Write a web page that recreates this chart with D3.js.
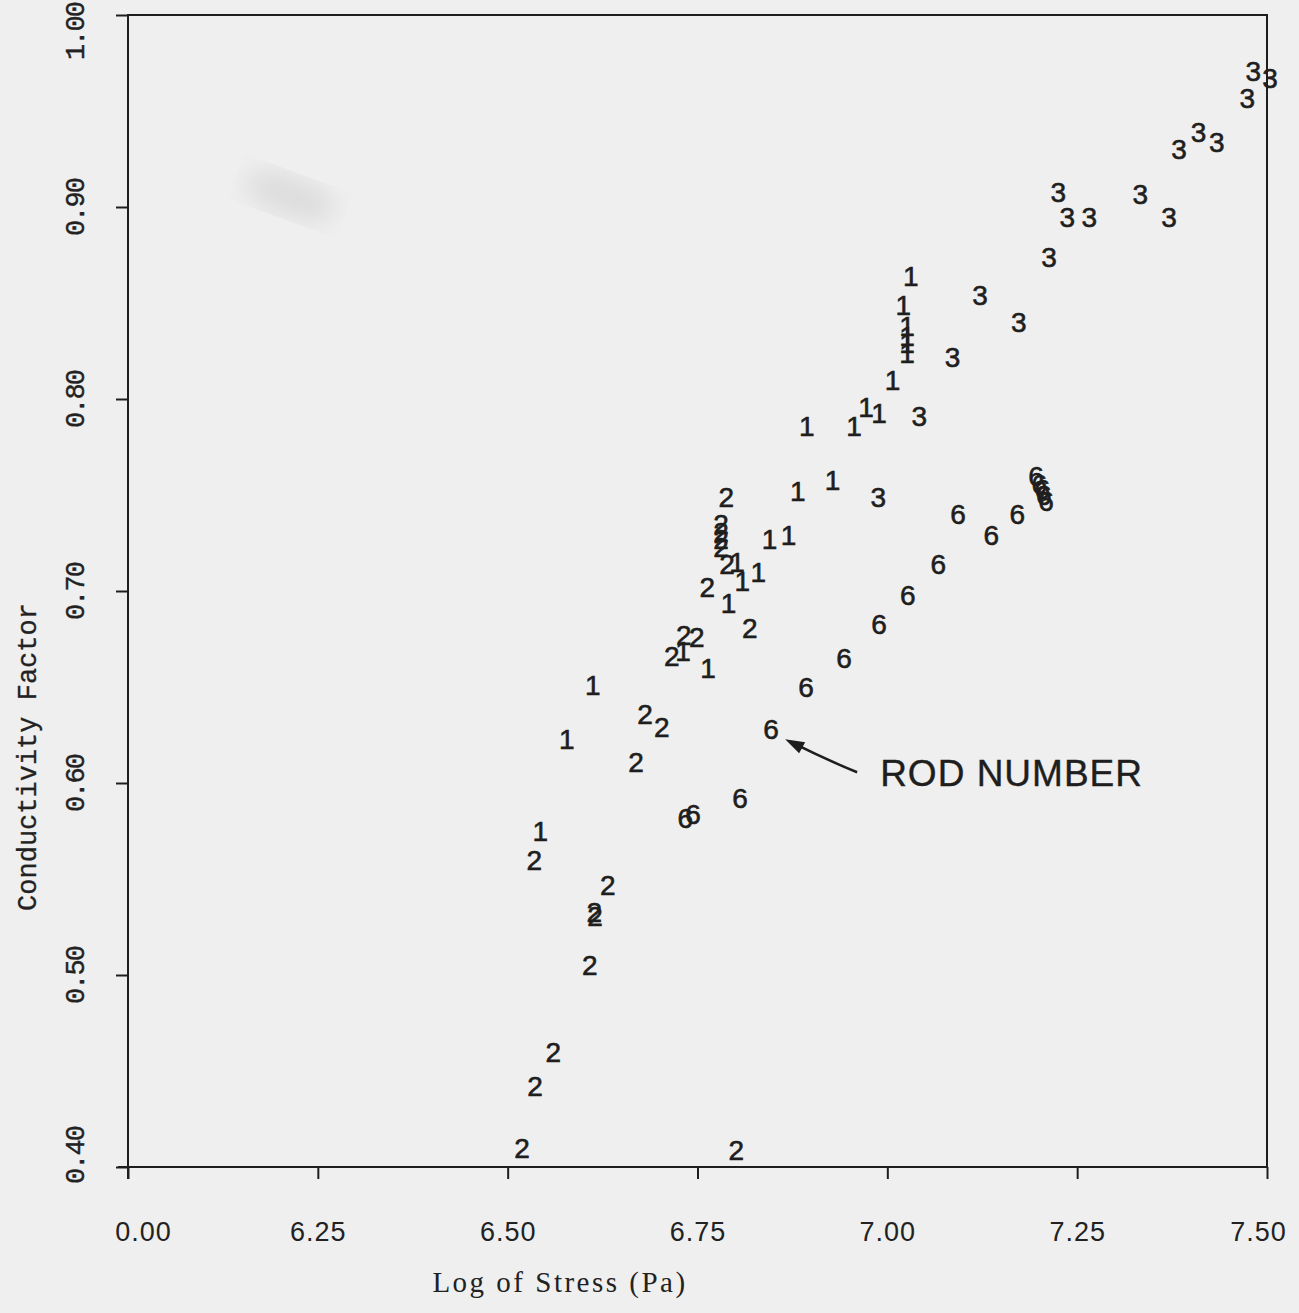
<!DOCTYPE html>
<html>
<head>
<meta charset="utf-8">
<script src="https://cdn.jsdelivr.net/npm/d3@7"></script>
<style>
  body { margin: 0; background: #efefef; }
  svg { display: block; }
</style>
</head>
<body>
<div class="chart--container"></div>
<script>
// ticks
let xTicks = [6.00, 6.25, 6.50, 6.75, 7.00, 7.25, 7.50],
    xTickLabels = ['0.00', '6.25', '6.50', '6.75', '7.00', '7.25', '7.50'],   // broken axis, first is printed 0.00
    yTicks = [0.40, 0.50, 0.60, 0.70, 0.80, 0.90, 1.00],
    yTickLabels = ['0.40', '0.50', '0.60', '0.70', '0.80', '0.90', '1.00'];

// rod 1
let rod1_x = [7.031, 7.021, 7.026, 7.026, 7.026, 7.026, 7.007, 6.972, 6.989, 6.894, 6.956, 6.882,
              6.928, 6.845, 6.870, 6.802, 6.809, 6.830, 6.791, 6.731, 6.764, 6.612, 6.578, 6.543],
    rod1_y = [0.864, 0.849, 0.838, 0.833, 0.829, 0.824, 0.810, 0.796, 0.793, 0.786, 0.786, 0.752,
              0.758, 0.727, 0.729, 0.715, 0.705, 0.710, 0.694, 0.669, 0.660, 0.651, 0.623, 0.575];

// rod 2
let rod2_x = [6.788, 6.781, 6.781, 6.781, 6.781, 6.789, 6.763, 6.819, 6.732, 6.749, 6.716, 6.681,
              6.703, 6.669, 6.535, 6.632, 6.614, 6.615, 6.608, 6.560, 6.536, 6.519, 6.801],
    rod2_y = [0.749, 0.735, 0.731, 0.727, 0.723, 0.714, 0.702, 0.681, 0.677, 0.676, 0.666, 0.636,
              0.629, 0.611, 0.560, 0.547, 0.533, 0.531, 0.505, 0.460, 0.442, 0.410, 0.409];

// rod 3
let rod3_x = [7.482, 7.504, 7.474, 7.384, 7.410, 7.434, 7.225, 7.237, 7.266, 7.333, 7.371, 7.213,
              7.122, 7.173, 7.086, 7.042, 6.988],
    rod3_y = [0.971, 0.967, 0.957, 0.930, 0.939, 0.934, 0.908, 0.895, 0.895, 0.907, 0.895, 0.874,
              0.854, 0.840, 0.822, 0.791, 0.749];

// rod 6
let rod6_x = [7.196, 7.200, 7.204, 7.206, 7.209, 7.171, 7.093, 7.137, 7.067, 7.027, 6.989, 6.943,
              6.893, 6.847, 6.806, 6.734, 6.744],
    rod6_y = [0.760, 0.756, 0.753, 0.750, 0.747, 0.740, 0.740, 0.729, 0.714, 0.698, 0.683, 0.665,
              0.650, 0.628, 0.592, 0.582, 0.584];

let rods = [['1', rod1_x, rod1_y], ['2', rod2_x, rod2_y], ['3', rod3_x, rod3_y], ['6', rod6_x, rod6_y]];

let width = 1299, height = 1313,
    margin = {t: 15, l: 128, r: 32, b: 146},
    ink = '#1e1e1e';

let points = [];
rods.forEach(r => r[1].forEach((x, i) => points.push({rod: r[0], x: x, y: r[2][i]})));

let svg = d3.select('.chart--container')
            .append('svg')
            .attr('width', width)
            .attr('height', height);

// paper smudge
let defs = svg.append('defs');
defs.append('filter').attr('id', 'blur')
    .append('feGaussianBlur').attr('stdDeviation', 12);
svg.append('ellipse')
    .attr('cx', 290).attr('cy', 196).attr('rx', 48).attr('ry', 20)
    .attr('transform', 'rotate(20 290 196)')
    .attr('fill', '#d0d0d0').attr('opacity', 0.6)
    .attr('filter', 'url(#blur)');

let scale_x = d3.scaleLinear()
                .domain([6.00, 7.50])
                .range([margin.l, width - margin.r]);

let scale_y = d3.scaleLinear()
                .domain([0.40, 1.00])
                .range([height - margin.b, margin.t]);

let x0 = scale_x.range()[0], x1 = scale_x.range()[1],
    y0 = scale_y.range()[0], y1 = scale_y.range()[1];

// frame
svg.append('path')
    .attr('d', `M${x0},${y0 + 12}V${y1}H${x1}V${y0}H${x0 - 10}`)
    .attr('fill', 'none')
    .attr('stroke', ink)
    .attr('stroke-width', 2);

// x-axis
let gx = svg.append('g')
    .attr('transform', `translate(0, ${y0})`)
    .call(d3.axisBottom(scale_x)
        .tickValues(xTicks)
        .tickFormat((d, i) => xTickLabels[i])
        .tickSize(12)
        .tickSizeOuter(0));
gx.select('.domain').remove();
gx.selectAll('line').attr('stroke', ink).attr('stroke-width', 2);
gx.selectAll('text')
    .attr('y', 65).attr('dy', '0.35em')
    .attr('dx', (d, i) => i === 0 ? 15 : (i === xTicks.length - 1 ? -9 : 0))
    .attr('fill', '#222')
    .style('font-family', "'Liberation Sans', sans-serif")
    .style('font-size', '27px')
    .style('letter-spacing', '1px');

// y-axis
let gy = svg.append('g')
    .attr('transform', `translate(${x0}, 0)`)
    .call(d3.axisLeft(scale_y)
        .tickValues(yTicks)
        .tickFormat((d, i) => yTickLabels[i])
        .tickSize(12)
        .tickSizeOuter(0));
gy.select('.domain').remove();
gy.selectAll('line').attr('stroke', ink).attr('stroke-width', 2);
gy.selectAll('text')
    .attr('x', 0).attr('y', 0).attr('dy', '0.35em')
    .attr('text-anchor', 'middle')
    .attr('transform', (d, i) => `translate(-53, ${i === 0 ? -12 : (i === yTicks.length - 1 ? 16 : 0)}) rotate(-90)`)
    .attr('fill', '#222')
    .attr('stroke', '#222').attr('stroke-width', 0.4)
    .style('font-family', "'Liberation Mono', monospace")
    .style('font-size', '27px')
    .style('letter-spacing', '-2px');

// labels
svg.append('text')
    .attr('x', 560).attr('y', height - 21)
    .attr('text-anchor', 'middle')
    .attr('fill', '#222')
    .style('font-family', "'Liberation Serif', serif")
    .style('font-size', '29px')
    .style('letter-spacing', '2.5px')
    .text('Log of Stress (Pa)');

svg.append('text')
    .attr('transform', 'translate(27, 757) rotate(-90)')
    .attr('text-anchor', 'middle')
    .attr('dy', '0.35em')
    .attr('fill', '#222')
    .attr('stroke', '#222').attr('stroke-width', 0.3)
    .style('font-family', "'Liberation Mono', monospace")
    .style('font-size', '27px')
    .text('Conductivity Factor');

// rod numbers as plotting symbols
svg.append('g')
    .selectAll('text')
    .data(points)
    .enter()
    .append('text')
    .attr('x', d => scale_x(d.x))
    .attr('y', d => scale_y(d.y))
    .attr('dy', '0.36em')
    .attr('text-anchor', 'middle')
    .attr('fill', ink)
    .attr('stroke', ink).attr('stroke-width', 0.6)
    .style('font-family', "'Liberation Sans', sans-serif")
    .style('font-size', '28px')
    .text(d => d.rod);

// annotation pointing at one rod 6 value
let tipX = scale_x(6.847) + 14,
    tipY = scale_y(0.628) + 10;

svg.append('path')
    .attr('d', `M${tipX + 72},${tipY + 33} Q${tipX + 40},${tipY + 20} ${tipX + 6},${tipY + 3}`)
    .attr('fill', 'none')
    .attr('stroke', ink)
    .attr('stroke-width', 2.5);
svg.append('path')
    .attr('d', `M${tipX},${tipY} L${tipX + 20},${tipY + 3} L${tipX + 14},${tipY + 14} Z`)
    .attr('fill', ink);

svg.append('text')
    .attr('x', tipX + 95).attr('y', tipY + 47)
    .attr('fill', ink)
    .attr('stroke', ink).attr('stroke-width', 0.4)
    .style('font-family', "'Liberation Sans', sans-serif")
    .style('font-size', '37px')
    .style('letter-spacing', '1px')
    .text('ROD NUMBER');
</script>
</body>
</html>
